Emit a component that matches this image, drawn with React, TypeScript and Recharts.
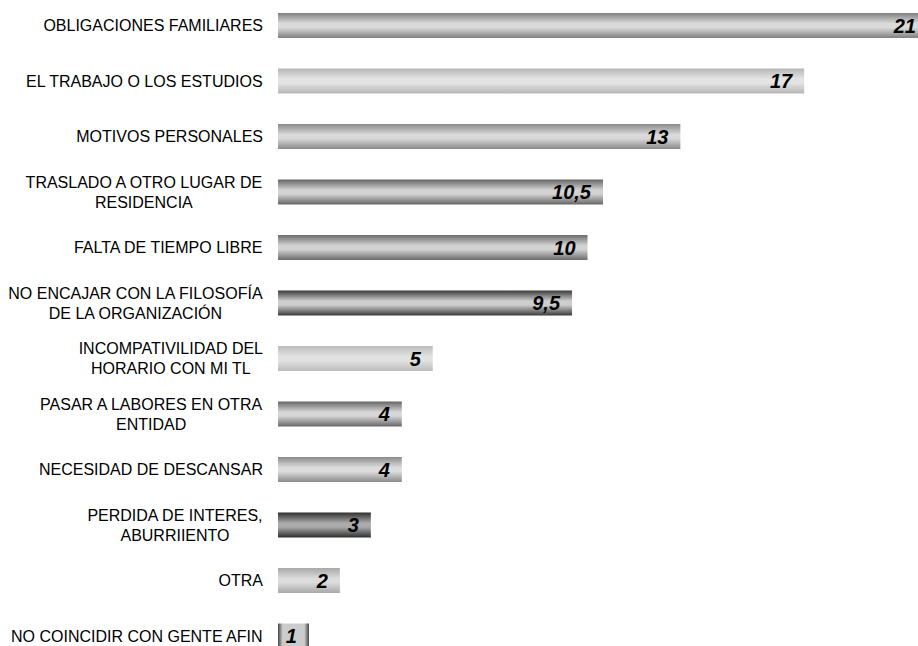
import { BarChart, Bar, XAxis, YAxis, LabelList } from 'recharts';

const categories = [
  'OBLIGACIONES FAMILIARES',
  'EL TRABAJO O LOS ESTUDIOS',
  'MOTIVOS PERSONALES',
  'TRASLADO A OTRO LUGAR DE\nRESIDENCIA',
  'FALTA DE TIEMPO LIBRE',
  'NO ENCAJAR CON LA FILOSOFÍA\nDE LA ORGANIZACIÓN',
  'INCOMPATIVILIDAD DEL\nHORARIO CON MI TL',
  'PASAR A LABORES EN OTRA\nENTIDAD',
  'NECESIDAD DE DESCANSAR',
  'PERDIDA DE INTERES,\nABURRIIENTO',
  'OTRA',
  'NO COINCIDIR CON GENTE AFIN',
];
const values = [21, 17, 13, 10.5, 10, 9.5, 5, 4, 4, 3, 2, 1];

// edge / centre tone of each bar's shading
const shades: [string, string][] = [
  ['#808080', '#dadada'],
  ['#b6b6b6', '#e4e4e4'],
  ['#8a8a8a', '#d8d8d8'],
  ['#666666', '#d2d2d2'],
  ['#6c6c6c', '#d2d2d2'],
  ['#3a3a3a', '#cecece'],
  ['#bcbcbc', '#e2e2e2'],
  ['#666666', '#d6d6d6'],
  ['#8a8a8a', '#dcdcdc'],
  ['#2e2e2e', '#aaaaaa'],
  ['#a8a8a8', '#dcdcdc'],
  ['#444444', '#cccccc'],
];

const data = categories.map((name, i) => ({ name, value: values[i] }));

const FONT = '"Liberation Sans", Arial, sans-serif';
const LABEL_RIGHT = 263;

let ctx: CanvasRenderingContext2D | null = null;
function textWidth(s: string) {
  if (!ctx) ctx = document.createElement('canvas').getContext('2d');
  if (!ctx) return s.length * 9;
  ctx.font = `16px ${FONT}`;
  return ctx.measureText(s).width;
}

function CategoryTick(props: any) {
  const { y, payload } = props;
  const lines: string[] = String(payload.value).split('\n');
  const maxW = Math.max(...lines.map(textWidth));
  const cx = LABEL_RIGHT - maxW / 2;
  const lh = 20;
  const y0 = y - ((lines.length - 1) * lh) / 2;
  return (
    <g>
      {lines.map((l, i) => (
        <text key={i} x={cx} y={y0 + i * lh} textAnchor="middle" dominantBaseline="central"
          fontFamily={FONT} fontSize={16} fill="#000">{l}</text>
      ))}
    </g>
  );
}

function ShadedBar(props: any) {
  const { x, y, width, height, index } = props;
  const [edge, mid] = shades[index] || shades[0];
  const id = `shade${index}`;
  const horizontal = width < height * 1.5;
  return (
    <g>
      <defs>
        <linearGradient id={id} x1="0" y1="0" x2={horizontal ? '1' : '0'} y2={horizontal ? '0' : '1'}>
          <stop offset="0" stopColor={edge} />
          <stop offset={horizontal ? '0.15' : '0.42'} stopColor={mid} />
          <stop offset={horizontal ? '0.85' : '0.58'} stopColor={mid} />
          <stop offset="1" stopColor={edge} />
        </linearGradient>
      </defs>
      <rect x={x} y={y} width={width} height={height} fill={`url(#${id})`} />
    </g>
  );
}

function ValueLabel(props: any) {
  const { x, y, width, height, value } = props;
  return (
    <text x={x + width - 12} y={y + height / 2} textAnchor="end" dominantBaseline="central"
      fontFamily={FONT} fontSize={20} fontWeight="bold" fontStyle="italic" fill="#000">
      {String(value).replace('.', ',')}
    </text>
  );
}

export default function App() {
  return (
    <div style={{ position: 'absolute', left: 0, top: 0, width: 918, height: 646, overflow: 'hidden', background: '#fff' }}>
      <div style={{ position: 'relative', top: -2 }}>
        <BarChart width={928} height={666} data={data} layout="vertical"
          margin={{ top: 0, right: 0, bottom: 0, left: 0 }} barCategoryGap={0}>
          <XAxis type="number" domain={[0, 21]} hide />
          <YAxis type="category" dataKey="name" width={278} axisLine={false} tickLine={false}
            interval={0} tick={<CategoryTick />} />
          <Bar dataKey="value" barSize={25} isAnimationActive={false} shape={<ShadedBar />}>
            <LabelList dataKey="value" content={<ValueLabel />} />
          </Bar>
        </BarChart>
      </div>
    </div>
  );
}
